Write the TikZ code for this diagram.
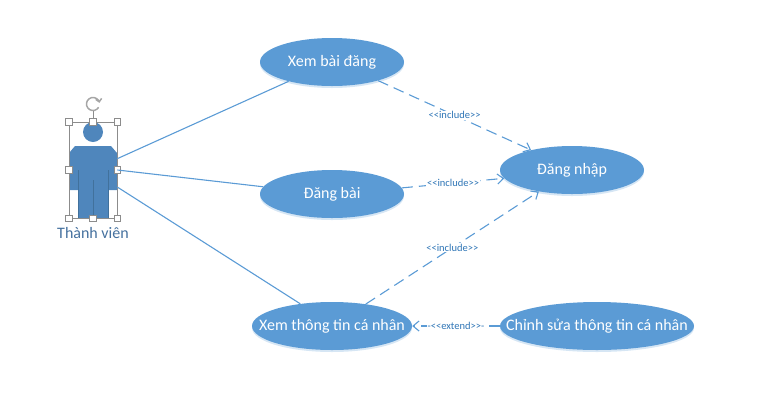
\documentclass[tikz,border=0pt]{standalone}
\usepackage{fontspec}
\setmainfont{Carlito}
\usetikzlibrary{shapes.geometric,arrows.meta,shadows}
\definecolor{usefill}{HTML}{5B9BD5}
\definecolor{actorfill}{HTML}{4F86BC}
\definecolor{actorline}{HTML}{41719C}
\definecolor{labelblue}{HTML}{2E75B6}
\definecolor{namecol}{HTML}{44709E}
\tikzset{
  usecase/.style={ellipse,fill=usefill,text=white,inner ysep=0pt,inner xsep=-30pt,minimum height=48pt,font=\fontsize{16}{18}\selectfont,
    drop shadow={shadow xshift=0pt,shadow yshift=-2pt,opacity=0.25,fill=usefill}},
  assoc/.style={draw=usefill,line width=1.1pt},
  dep/.style={draw=usefill,line width=1.1pt,dash pattern=on 11pt off 6pt,-{Straight Barb[length=6pt,width=10pt]}},
  deplabel/.style={fill=white,inner sep=1pt,text=labelblue,font=\fontsize{10.5}{11}\selectfont},
  handle/.style={draw=gray!90,fill=white,line width=0.7pt,inner sep=0pt,minimum size=6.5pt}
}
\begin{document}
\begin{tikzpicture}[x=1pt,y=-1pt]
\useasboundingbox (0,0) rectangle (760,416);
% use cases
\node[usecase,minimum width=144pt] (xem) at (332,62) {Xem bài đăng};
\node[usecase,minimum width=144pt] (dang) at (332,194) {Đăng bài};
\node[usecase,minimum width=144pt] (login) at (572,170) {Đăng nhập};
\node[usecase,minimum width=160pt] (info) at (332,326) {Xem thông tin cá nhân};
\node[usecase,minimum width=194pt] (edit) at (597,326) {Chỉnh sửa thông tin cá nhân};
% actor
\fill[actorfill] (93,132) circle (10);
\fill[actorfill] (75,146)--(111,146)--(117,153)--(117,190)--(108,190)--(108,218)--(78,218)--(78,190)--(69,190)--(69,153)--cycle;
\draw[actorline,line width=0.7pt] (78,170)--(78,218) (108,170)--(108,218) (93,180)--(93,218);
\node[draw=gray!90,line width=0.7pt,minimum width=48pt,minimum height=96pt,inner sep=0pt] (actor) at (93,170) {};
\node[text=namecol,font=\fontsize{16}{18}\selectfont] (actorname) at (93,233) {Thành viên};
\foreach \a in {north west,north,north east,west,east,south west,south,south east}
  \node[handle] (h-\a) at (actor.\a) {};
\node[inner sep=0pt,minimum size=13pt] (rot) at (93,104) {};
\draw[gray!90,line width=0.7pt] (rot.south)--(h-north.north);
\draw[gray!70,line width=1.5pt,-{Straight Barb[length=3pt,width=6pt]}] (rot.center)+(30:6.5) arc (30:350:6.5);
% connectors
\draw[assoc] (actor.25)--(xem.204);
\draw[assoc] (actor.east)--(dang.174);
\draw[assoc] (actor.-35)--(info.145.5);
\draw[dep] (xem.-22.7)--(login.154.5) node[deplabel,pos=0.5] (inc1) {<{}<include>{}>};
\draw[dep] (dang.5.7)--(login.187) node[deplabel,pos=0.5] (inc2) {<{}<include>{}>};
\draw[dep] (info.33)--(login.213) node[deplabel,pos=0.5] (inc3) {<{}<include>{}>};
\draw[dep] (edit.west)--(info.east) node[deplabel,pos=0.5] (ext) {-<{}<extend>{}>-};
\end{tikzpicture}
\end{document}
